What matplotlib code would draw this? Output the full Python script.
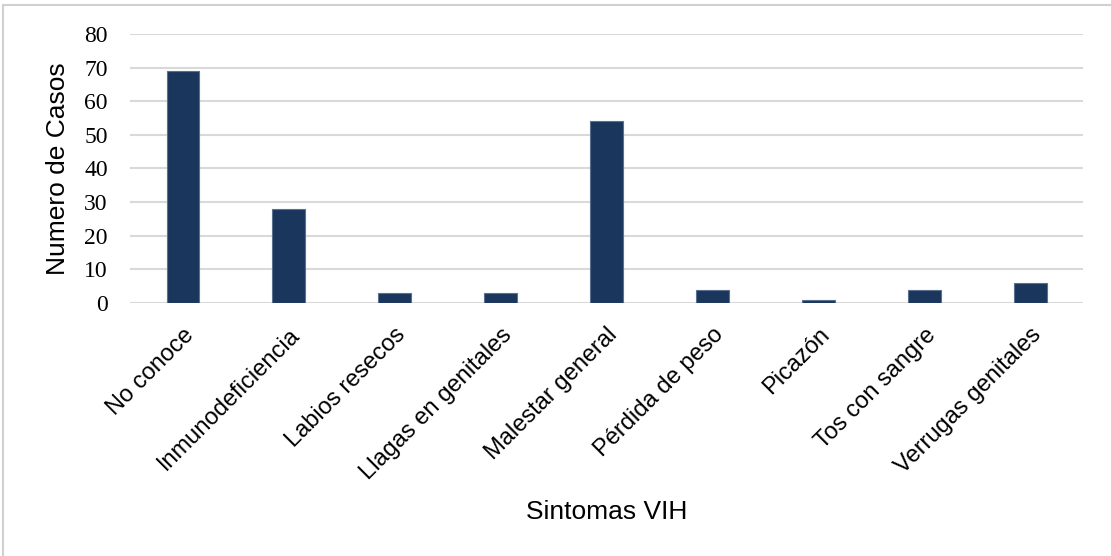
import matplotlib.pyplot as plt
from matplotlib.lines import Line2D

sintomas = ["No conoce", "Inmunodeficiencia", "Labios resecos", "Llagas en genitales",
            "Malestar general", "Pérdida de peso", "Picazón", "Tos con sangre",
            "Verrugas genitales"]
casos = [69, 28, 3, 3, 54, 4, 1, 4, 6]
y_ticks = [0, 10, 20, 30, 40, 50, 60, 70, 80]


def main():
    fig = plt.figure(figsize=(11.11, 5.56), dpi=100)
    ax = fig.add_axes([0.117, 0.455, 0.858, 0.484])

    x = range(len(sintomas))
    ax.bar(x, casos, width=0.31, color="#1A365D", edgecolor="#5A7090",
           linewidth=0.8, zorder=3)

    ax.set_ylim(0, 80)
    ax.set_xlim(-0.5, len(sintomas) - 0.5)
    ax.set_yticks(y_ticks)
    ax.set_yticklabels([str(t) for t in y_ticks], fontfamily="Liberation Serif",
                       fontsize=17)
    ax.set_xticks(list(x))
    ax.set_xticklabels(sintomas, rotation=45, ha="right", rotation_mode="anchor",
                       fontfamily="Liberation Sans", fontsize=17)
    ax.tick_params(axis="y", length=0, pad=16)
    ax.tick_params(axis="x", length=0, pad=15)

    ax.yaxis.grid(True, color="#D9D9D9", linewidth=1.5, zorder=0)
    for s in ax.spines.values():
        s.set_visible(False)

    ax.set_ylabel("Numero de Casos", fontfamily="Liberation Sans", fontsize=19)
    ax.yaxis.set_label_coords(-0.063, 0.5)
    fig.text(0.546, 0.079, "Sintomas VIH", fontfamily="Liberation Sans",
             fontsize=19, ha="center", va="center")

    # the original image only shows the left and top edge of the chart frame
    fig.lines.append(Line2D([0.003, 0.003], [0.0, 0.991], transform=fig.transFigure,
                            color="#D0D0D0", linewidth=1.5))
    fig.lines.append(Line2D([0.003, 1.0], [0.991, 0.991], transform=fig.transFigure,
                            color="#D0D0D0", linewidth=1.5))

    fig.savefig("out.png", dpi=100)


if __name__ == "__main__":
    main()
